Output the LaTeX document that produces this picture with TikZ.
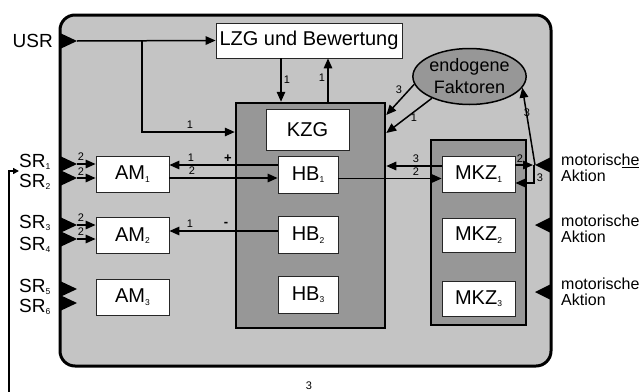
\documentclass[tikz,border=0pt]{standalone}
\usepackage{fontspec}
\setmainfont{Liberation Sans}
\usetikzlibrary{arrows.meta,shapes.geometric}
\definecolor{lightg}{HTML}{C4C4C4}
\definecolor{darkg}{HTML}{979797}
\newcommand\sbs[1]{\raisebox{-2.5pt}{\fontsize{8.5}{8.5}\selectfont #1}}
\begin{document}
\begin{tikzpicture}[x=1pt,y=-1pt,
  outerst/.style={draw,line width=3pt,fill=lightg,rounded corners=15pt,inner sep=0},
  blockst/.style={draw,line width=2.5pt,fill=darkg,inner sep=0},
  boxst/.style={draw=black!85,line width=0.8pt,fill=white,inner sep=0,
    minimum width=73pt,minimum height=36pt,font=\fontsize{20}{20}\selectfont},
  hbst/.style={boxst,minimum width=60pt,minimum height=37pt},
  arr/.style={line width=1.5pt,-{Triangle[length=10pt,width=8.5pt]}},
  lbl/.style={inner sep=0,font=\fontsize{11}{11}\selectfont},
  sgn/.style={inner sep=0,font=\bfseries\fontsize{13}{13}\selectfont},
  txt/.style={inner sep=0,font=\fontsize{19}{19}\selectfont},
  mot/.style={inner sep=0,anchor=west,align=left,font=\fontsize{16}{15.5}\selectfont}]
\useasboundingbox (0,0) rectangle (639,391);

% outer frame
\node[outerst,minimum width=491pt,minimum height=351pt] (frame) at (305.5,190.5) {};

% blocks
\node[blockst,minimum width=149pt,minimum height=225pt] (blk) at (310.5,215.5) {};
\node[blockst,minimum width=95pt,minimum height=185pt] (mblk) at (478.5,232.5) {};

% boxes
\node[boxst,minimum width=186pt,minimum height=35pt] (lzg) at (309,40.5) {LZG und Bewertung};
\node[boxst,minimum width=83pt,minimum height=41pt] (kzg) at (307.5,129.5) {KZG};
\node[hbst] (hb1) at (308,174.5) {HB\sbs{1}};
\node[hbst] (hb2) at (308,235) {HB\sbs{2}};
\node[hbst] (hb3) at (308,294.5) {HB\sbs{3}};
\node[boxst] (am1) at (132.5,174) {AM\sbs{1}};
\node[boxst] (am2) at (132.5,235.5) {AM\sbs{2}};
\node[boxst] (am3) at (132.5,297) {AM\sbs{3}};
\node[boxst] (mkz1) at (478.5,174) {MKZ\sbs{1}};
\node[boxst,minimum height=34pt] (mkz2) at (478.5,235) {MKZ\sbs{2}};
\node[boxst,minimum height=35pt] (mkz3) at (478.5,298.5) {MKZ\sbs{3}};
\node[ellipse,draw,line width=1.5pt,fill=darkg,minimum width=93pt,minimum height=56pt,
  inner sep=0,align=center,font=\fontsize{18}{22}\selectfont] (ell) at (469.5,76.5) {endogene\\Faktoren};

% input triangles (left)
\fill (60,33) -- (77,41) -- (60,49) -- cycle;
\fill (60,156) -- (77,164) -- (60,172) -- cycle;
\fill (60,170) -- (77,178) -- (60,186) -- cycle;
\fill (60,217) -- (77,225) -- (60,233) -- cycle;
\fill (60,231) -- (77,239) -- (60,247) -- cycle;
\fill (60,281) -- (77,289) -- (60,297) -- cycle;
\fill (60,295) -- (77,303) -- (60,311) -- cycle;
\coordinate (usr) at (77,41);
\coordinate (sr1) at (77,164);
\coordinate (sr2) at (77,178);
\coordinate (sr3) at (77,225);
\coordinate (sr4) at (77,239);
% motor triangles (right)
\fill (551,157) -- (535,165) -- (551,173) -- cycle;
\fill (551,217) -- (535,225) -- (551,233) -- cycle;
\fill (551,284) -- (535,292) -- (551,300) -- cycle;
\coordinate (mot1) at (535,165);

% texts outside
\node[txt,anchor=east] (usrt) at (53,41) {USR};
\node[txt,anchor=west] (s1) at (19,162) {SR\sbs{1}};
\node[txt,anchor=west] (s2) at (19,182) {SR\sbs{2}};
\node[txt,anchor=west] (s3) at (19,223) {SR\sbs{3}};
\node[txt,anchor=west] (s4) at (19,245) {SR\sbs{4}};
\node[txt,anchor=west] (s5) at (19,287) {SR\sbs{5}};
\node[txt,anchor=west] (s6) at (19,307) {SR\sbs{6}};
\node[mot] (mt1) at (561,168) {motorisc\underline{he}\\Aktion};
\node[mot] (mt2) at (561,229) {motorische\\Aktion};
\node[mot] (mt3) at (561,292) {motorische\\Aktion};

% connectors
\coordinate (j1) at (142,41);
\draw[arr] (usr) -- (lzg.west);
\draw[arr] (j1) |- ([yshift=83.5pt]blk.west);
\draw[arr] ([xshift=-28pt]lzg.south) -- ([xshift=-28pt]lzg.south |- blk.north);
\draw[arr] ([xshift=17.5pt]blk.north) -- ([xshift=17.5pt]blk.north |- lzg.south);
\draw[arr] (ell.188) -- ([yshift=100.5pt]blk.east);
\draw[arr] (ell.210) -- ([yshift=82.5pt]blk.east);
\draw[arr] ([yshift=8pt]mkz1.west) -- ([yshift=8pt]mkz1.west -| blk.east);
\draw[arr] ([yshift=-4pt]hb1.east) -- ([yshift=-4pt]hb1.east -| mkz1.west);
\draw[arr] ([yshift=9.5pt]hb1.west) -- ([yshift=9.5pt]hb1.west -| am1.east);
\draw[arr] ([yshift=-4pt]am1.east) -- ([yshift=-4pt]am1.east -| hb1.west);
\draw[arr] ([yshift=4pt]hb2.west) -- ([yshift=4pt]hb2.west -| am2.east);
\draw[arr] (sr1) -- (sr1 -| am1.west);
\draw[arr] (sr2) -- (sr2 -| am1.west);
\draw[arr] (sr3) -- (sr3 -| am2.west);
\draw[arr] (sr4) -- (sr4 -| am2.west);
\draw[arr] ([yshift=9pt]mkz1.east) -- ([xshift=-2pt]mot1);
\draw[arr] (mot1) -- (ell.-12);
\draw[arr] ([xshift=-1pt]mot1) |- ([yshift=-9pt]mkz1.east);
\coordinate (fbb) at (9,400);
\coordinate (fbt) at (19,171);
\draw[line width=1.5pt,-{Triangle[length=6pt,width=6pt]}] (fbb) |- (fbt);

% labels
\node[lbl] (l1) at (190,125) {1};
\node[lbl] (l2) at (287,80) {1};
\node[lbl] (l3) at (322,78) {1};
\node[lbl] (l4) at (399,90) {3};
\node[lbl] (l5) at (414,118) {1};
\node[lbl] (l6) at (416,159) {3};
\node[lbl] (l7) at (416,172) {2};
\node[lbl] (l8) at (191,158) {1};
\node[sgn] (l9) at (228,159) {+};
\node[lbl] (l10) at (192,171) {2};
\node[lbl] (l11) at (190,224) {1};
\node[sgn] (l12) at (226,224) {-};
\node[lbl] (l13) at (81,157) {2};
\node[lbl] (l14) at (81,172) {2};
\node[lbl] (l15) at (81,218) {2};
\node[lbl] (l16) at (81,232) {2};
\node[lbl] (l17) at (520,159) {2};
\node[lbl] (l18) at (527,113) {3};
\node[lbl] (l19) at (540,178) {3};
\node[lbl] (l20) at (309,386) {3};
\end{tikzpicture}
\end{document}
